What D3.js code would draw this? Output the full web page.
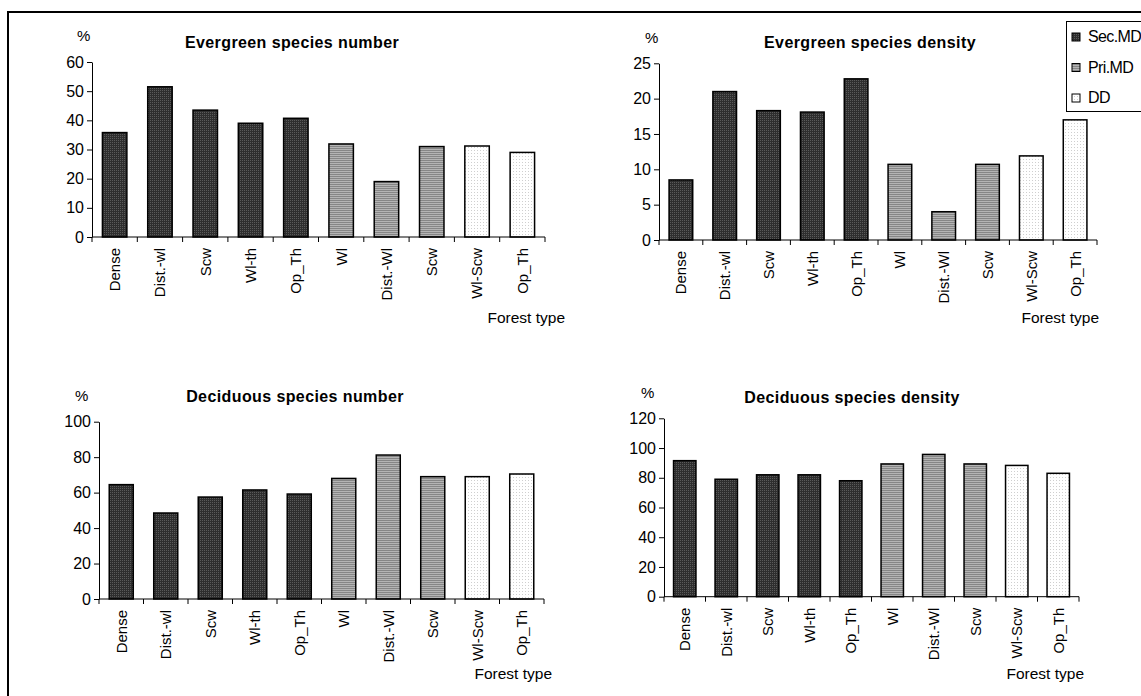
<!DOCTYPE html>
<html>
<head>
<meta charset="utf-8">
<script src="https://cdn.jsdelivr.net/npm/d3@7"></script>
<style>
  body { margin: 0; background: #fff; }
  svg { display: block; font-family: "Liberation Sans", Arial, sans-serif; }
</style>
</head>
<body>
<svg id="chart" width="1141" height="696"></svg>
<script>
// ---- Data ----
const categories = ["Dense", "Dist.-wl", "Scw", "Wl-th", "Op_Th", "Wl", "Dist.-Wl", "Scw", "Wl-Scw", "Op_Th"];
const groups = ["Sec.MD", "Sec.MD", "Sec.MD", "Sec.MD", "Sec.MD", "Pri.MD", "Pri.MD", "Pri.MD", "DD", "DD"];
const legendGroups = ["Sec.MD", "Pri.MD", "DD"];
const evergreenNumber = [35.8, 51.5, 43.5, 39.0, 40.7, 31.9, 19.0, 31.0, 31.2, 29.0];
const evergreenDensity = [8.5, 21.0, 18.3, 18.1, 22.8, 10.7, 4.0, 10.7, 11.9, 17.0];
const deciduousNumber = [64.5, 48.5, 57.5, 61.5, 59.2, 68.0, 81.2, 69.0, 69.0, 70.5];
const deciduousDensity = [91.5, 79.0, 82.0, 82.0, 78.0, 89.3, 95.7, 89.3, 88.3, 83.0];
const ticksEN = [0, 10, 20, 30, 40, 50, 60];
const ticksED = [0, 5, 10, 15, 20, 25];
const ticksDN = [0, 20, 40, 60, 80, 100];
const ticksDD = [0, 20, 40, 60, 80, 100, 120];
const titles = ["Evergreen species number", "Evergreen species density", "Deciduous species number", "Deciduous species density"];

// ---- Layout ----
const panels = [
  { values: evergreenNumber, ticks: ticksEN, title: titles[0], x0: 92, x1: 545, y0: 237, yTop: 62,
    titleX: 292, titleY: 48, pctX: 77, pctY: 41, ftX: 565, ftY: 323 },
  { values: evergreenDensity, ticks: ticksED, title: titles[1], x0: 659, x1: 1097, y0: 240, yTop: 63.3,
    titleX: 870, titleY: 48, pctX: 645, pctY: 43, ftX: 1099, ftY: 323 },
  { values: deciduousNumber, ticks: ticksDN, title: titles[2], x0: 99, x1: 544, y0: 599, yTop: 421.7,
    titleX: 295, titleY: 402, pctX: 75, pctY: 401, ftX: 552, ftY: 679 },
  { values: deciduousDensity, ticks: ticksDD, title: titles[3], x0: 664, x1: 1079, y0: 596.7, yTop: 418.3,
    titleX: 852, titleY: 403, pctX: 641, pctY: 398, ftX: 1084, ftY: 679 }
];

const svg = d3.select("#chart");
const defs = svg.append("defs");

// Patterns
const pSec = defs.append("pattern").attr("id", "pat-sec").attr("patternUnits", "userSpaceOnUse")
  .attr("width", 2).attr("height", 2);
pSec.append("rect").attr("width", 2).attr("height", 2).attr("fill", "#2e2e2e");
pSec.append("rect").attr("width", 1).attr("height", 1).attr("fill", "#5a5a5a");

const pPri = defs.append("pattern").attr("id", "pat-pri").attr("patternUnits", "userSpaceOnUse")
  .attr("width", 2).attr("height", 2);
pPri.append("rect").attr("width", 2).attr("height", 2).attr("fill", "#b4b4b4");
pPri.append("rect").attr("width", 2).attr("height", 1).attr("fill", "#868686");

const pDD = defs.append("pattern").attr("id", "pat-dd").attr("patternUnits", "userSpaceOnUse")
  .attr("width", 3).attr("height", 3);
pDD.append("rect").attr("width", 3).attr("height", 3).attr("fill", "#ffffff");
pDD.append("rect").attr("width", 1).attr("height", 1).attr("fill", "#cfcfcf");

const fillFor = d3.scaleOrdinal().domain(legendGroups).range(["url(#pat-sec)", "url(#pat-pri)", "url(#pat-dd)"]);

// Outer frame
svg.append("rect").attr("x", 8).attr("y", 12).attr("width", 1150).attr("height", 700)
  .attr("fill", "none").attr("stroke", "#000").attr("stroke-width", 2);

panels.forEach(p => {
  const g = svg.append("g");
  const idx = d3.range(categories.length);
  const x = d3.scaleBand().domain(idx).range([p.x0, p.x1]).paddingInner(0.46).paddingOuter(0.23);
  const step = (p.x1 - p.x0) / categories.length;
  const yMax = p.ticks[p.ticks.length - 1];
  const y = d3.scaleLinear().domain([0, yMax]).range([p.y0, p.yTop]);

  // bars
  g.selectAll("rect.bar").data(p.values).enter().append("rect")
    .attr("class", "bar")
    .attr("x", (d, i) => x(i))
    .attr("y", d => y(d))
    .attr("width", x.bandwidth())
    .attr("height", d => y(0) - y(d))
    .attr("fill", (d, i) => fillFor(groups[i]))
    .attr("stroke", "#000").attr("stroke-width", 1.5);

  // y axis
  const ya = g.append("g").attr("transform", `translate(${p.x0},0)`)
    .call(d3.axisLeft(y).tickValues(p.ticks).tickSize(5).tickSizeOuter(0).tickPadding(3));
  ya.select(".domain").attr("stroke", "#000");
  ya.selectAll(".tick line").attr("stroke", "#000");
  ya.selectAll("text").attr("font-size", 16).attr("fill", "#000")
    .attr("font-family", "Liberation Sans, Arial, sans-serif");

  // x axis line + boundary ticks
  g.append("line").attr("x1", p.x0).attr("x2", p.x1).attr("y1", p.y0).attr("y2", p.y0)
    .attr("stroke", "#000").attr("stroke-width", 1);
  g.selectAll("line.xt").data(d3.range(categories.length + 1)).enter().append("line")
    .attr("class", "xt")
    .attr("x1", i => p.x0 + i * step).attr("x2", i => p.x0 + i * step)
    .attr("y1", p.y0).attr("y2", p.y0 + 5)
    .attr("stroke", "#000");

  // rotated category labels
  g.selectAll("text.cat").data(categories).enter().append("text")
    .attr("class", "cat")
    .attr("transform", (d, i) => `translate(${x(i) + x.bandwidth() / 2},${p.y0 + 11}) rotate(-90)`)
    .attr("text-anchor", "end")
    .attr("dy", "0.36em")
    .attr("font-size", 15)
    .text(d => d);

  // title
  g.append("text").attr("x", p.titleX).attr("y", p.titleY).attr("text-anchor", "middle")
    .attr("font-size", 16).attr("font-weight", "bold").attr("letter-spacing", 0.4)
    .text(p.title);

  // % label
  g.append("text").attr("x", p.pctX).attr("y", p.pctY).attr("font-size", 15).text("%");

  // Forest type
  g.append("text").attr("x", p.ftX).attr("y", p.ftY).attr("text-anchor", "end")
    .attr("font-size", 15.5).text("Forest type");
});

// Legend
const lg = svg.append("g");
lg.append("rect").attr("x", 1066.5).attr("y", 21.5).attr("width", 100).attr("height", 90)
  .attr("fill", "#fff").attr("stroke", "#000").attr("stroke-width", 1);
const legendY = d3.scalePoint().domain(legendGroups).range([37, 98]);
legendGroups.forEach(k => {
  lg.append("rect").attr("x", 1072).attr("y", legendY(k) - 4).attr("width", 8).attr("height", 8)
    .attr("fill", fillFor(k)).attr("stroke", "#000").attr("stroke-width", 1);
  lg.append("text").attr("x", 1088).attr("y", legendY(k) + 5).attr("font-size", 16)
    .attr("letter-spacing", -0.6).text(k);
});
</script>
</body>
</html>
